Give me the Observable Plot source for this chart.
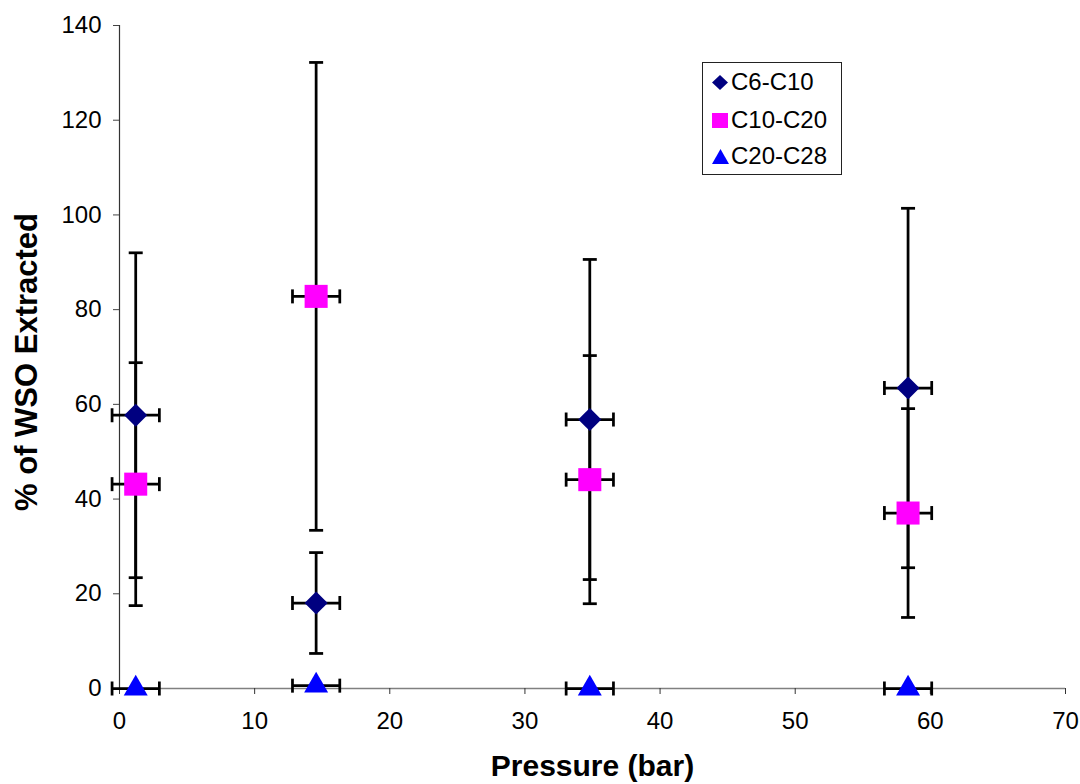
<!DOCTYPE html>
<html><head><meta charset="utf-8">
<script src="https://cdn.jsdelivr.net/npm/d3@7"></script>
<script src="https://cdn.jsdelivr.net/npm/@observablehq/plot@0.6"></script>
<style>
body{margin:0;background:#fff;font-family:"Liberation Sans",Arial,sans-serif;}
#wrap{position:relative;width:1080px;height:784px;}
#legend{position:absolute;left:702px;top:62px;width:140px;height:113px;border:1px solid #222;background:#fff;box-sizing:border-box}
.row{position:absolute;left:0;height:30px;display:flex;align-items:center;font-size:24px;color:#000;white-space:nowrap}
.row svg{margin-left:9px;margin-right:2px}
</style></head><body><div id="wrap"></div>
<script>
const series = ["C6-C10", "C10-C20", "C20-C28"];
const colors = ["#000080", "#FF00FF", "#0000FF"];
const pressure = [1.2, 14.55, 34.8, 58.35];
const pressureErr = [1.75, 1.75, 1.75, 1.75];
const c6c10 = [57.7, 18.05, 56.8, 63.45];
const c6c10Err = [34.3, 10.65, 33.8, 37.95];
const c10c20 = [43.15, 82.8, 44.1, 37.05];
const c10c20Err = [25.65, 49.4, 26.2, 22.05];
const c20c28 = [0, 0.6, 0, 0];
const c20c28Err = [0, 0, 0, 0];
const xTicks = [0, 10, 20, 30, 40, 50, 60, 70];
const yTicks = [0, 20, 40, 60, 80, 100, 120, 140];

const values = [c6c10, c10c20, c20c28];
const errs = [c6c10Err, c10c20Err, c20c28Err];
const rows = [];
series.forEach((s, i) => pressure.forEach((p, j) => rows.push({series: s, x: p, xe: pressureErr[j], y: values[i][j], ye: errs[i][j]})));
const vRows = rows.filter(d => d.ye > 0);
const capsV = vRows.flatMap(d => [{x: d.x, y: d.y - d.ye}, {x: d.x, y: d.y + d.ye}]);
const capsH = rows.flatMap(d => [{x: d.x - d.xe, y: d.y}, {x: d.x + d.xe, y: d.y}]);

const hCap = {draw(ctx) { ctx.moveTo(-7, 0); ctx.lineTo(7, 0); }};
const vCap = {draw(ctx) { ctx.moveTo(0, -7); ctx.lineTo(0, 7); }};
const ebar = {stroke: "black", strokeWidth: 2.75};

const chart = Plot.plot({
  width: 1080, height: 784,
  marginLeft: 119, marginRight: 15, marginTop: 25, marginBottom: 96,
  style: {fontFamily: "'Liberation Sans', Arial, sans-serif", background: "#fff"},
  x: {domain: [0, 70]},
  y: {domain: [0, 140]},
  marks: [
    Plot.ruleY([0], {stroke: "#808080", strokeWidth: 1.5}),
    Plot.ruleX([0], {stroke: "#333", strokeWidth: 1.2}),
    Plot.axisX({ticks: xTicks, tickSize: 6, tickPadding: 17, fontSize: 24, label: null, stroke: "#333"}),
    Plot.axisY({ticks: yTicks, tickSize: 6, tickPadding: 12, fontSize: 24, label: null, stroke: "#444"}),
    Plot.text(["Pressure (bar)"], {frameAnchor: "bottom", lineAnchor: "middle", textAnchor: "middle", dy: 78, fontSize: 30, fontWeight: "bold", fill: "#000"}),
    Plot.text(["% of WSO Extracted"], {frameAnchor: "left", lineAnchor: "middle", textAnchor: "middle", rotate: -90, dx: -92, dy: 5, fontSize: 31, fontWeight: "bold", fill: "#000"}),
    Plot.ruleY(rows, {y: "y", x1: d => d.x - d.xe, x2: d => d.x + d.xe, ...ebar}),
    Plot.ruleX(vRows, {x: "x", y1: d => d.y - d.ye, y2: d => d.y + d.ye, ...ebar}),
    Plot.dot(capsV, {x: "x", y: "y", symbol: hCap, r: 5, fill: "none", ...ebar}),
    Plot.dot(capsH, {x: "x", y: "y", symbol: vCap, r: 5, fill: "none", ...ebar}),
    Plot.dot(rows.filter(d => d.series === series[0]), {x: "x", y: "y", symbol: "diamond2", r: 10.4, fill: colors[0], stroke: "none"}),
    Plot.dot(rows.filter(d => d.series === series[1]), {x: "x", y: "y", symbol: "square", r: 13, fill: colors[1], stroke: "none"}),
    Plot.dot(rows.filter(d => d.series === series[2]), {x: "x", y: "y", symbol: "triangle", r: 8.9, fill: colors[2], stroke: "none"})
  ]
});
const wrap = document.getElementById("wrap");
wrap.appendChild(chart);

const legend = document.createElement("div");
legend.id = "legend";
const shapes = [
  '<polygon points="8,0 16,7.5 8,15 0,7.5" fill="' + colors[0] + '"/>',
  '<rect x="0" y="0" width="16" height="15" fill="' + colors[1] + '"/>',
  '<polygon points="8.5,0 17,15 0,15" fill="' + colors[2] + '"/>'
];
const tops = [4, 42, 78];
series.forEach((s, i) => {
  const r = document.createElement("div");
  r.className = "row";
  r.style.top = tops[i] + "px";
  r.innerHTML = '<svg width="17" height="15" viewBox="0 0 17 15">' + shapes[i] + '</svg><span>' + s + '</span>';
  legend.appendChild(r);
});
wrap.appendChild(legend);
</script></body></html>
